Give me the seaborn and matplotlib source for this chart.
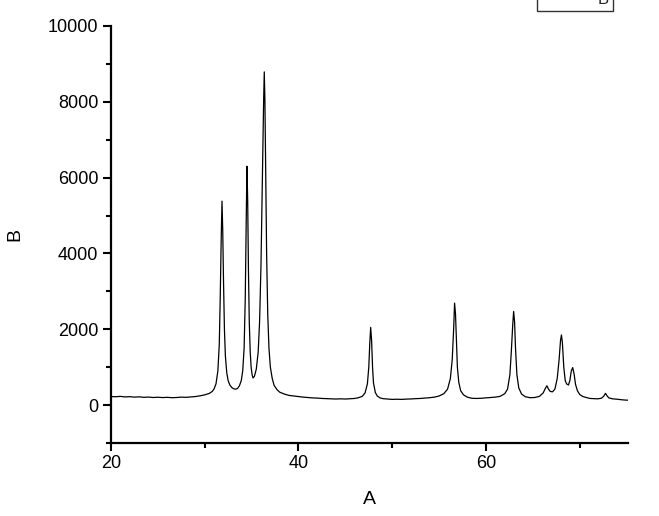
import matplotlib
matplotlib.use("Agg")
import matplotlib.pyplot as plt
import seaborn as sns
import pandas as pd
from matplotlib.ticker import MultipleLocator
from matplotlib.lines import Line2D

two_theta = [20.0, 20.5, 21.0, 21.5, 22.0, 22.5, 23.0, 23.5, 24.0, 24.5, 25.0, 25.5, 26.0, 26.5,
             27.0, 27.5, 28.0, 28.5, 29.0, 29.5, 30.0, 30.5, 30.8, 31.0, 31.2, 31.4, 31.55, 31.65,
             31.75, 31.84, 31.92, 32.0, 32.1, 32.2, 32.35, 32.5, 32.7, 32.9, 33.1, 33.3, 33.5, 33.7,
             33.9, 34.05, 34.2, 34.32, 34.42, 34.5, 34.58, 34.66, 34.75, 34.85, 34.95, 35.05, 35.15,
             35.3, 35.5, 35.7, 35.85, 36.0, 36.15, 36.28, 36.35, 36.42, 36.5, 36.6, 36.72, 36.85,
             37.0, 37.2, 37.4, 37.7, 38.0, 38.5, 39.0, 39.5, 40.0, 40.5, 41.0, 41.5, 42.0, 42.5,
             43.0, 43.5, 44.0, 44.5, 45.0, 45.5, 46.0, 46.4, 46.8, 47.1, 47.35, 47.5, 47.6, 47.7,
             47.8, 47.9, 48.0, 48.2, 48.4, 48.7, 49.0, 49.5, 50.0, 50.5, 51.0, 51.5, 52.0, 52.5,
             53.0, 53.5, 54.0, 54.5, 55.0, 55.5, 55.9, 56.2, 56.4, 56.55, 56.65, 56.75, 56.85,
             56.95, 57.1, 57.3, 57.6, 58.0, 58.5, 59.0, 59.5, 60.0, 60.5, 61.0, 61.5, 62.0, 62.3,
             62.55, 62.7, 62.85, 62.95, 63.05, 63.15, 63.3, 63.5, 63.8, 64.2, 64.7, 65.2, 65.7,
             66.1, 66.35, 66.5, 66.65, 66.85, 67.1, 67.35, 67.6, 67.8, 67.95, 68.05, 68.15, 68.3,
             68.45, 68.6, 68.8, 68.95, 69.1, 69.25, 69.4, 69.55, 69.75, 70.0, 70.3, 70.7, 71.1,
             71.5, 71.9, 72.3, 72.55, 72.75, 72.9, 73.1, 73.5, 74.0, 74.5, 75.0, 75.15]
intensity = [225, 220, 230, 215, 222, 210, 218, 205, 212, 200, 208, 198, 205, 195,
             200, 210, 205, 215, 225, 245, 270, 310, 360, 430, 560, 900, 1600, 2800,
             4300, 5380, 4600, 3300, 2000, 1300, 850, 640, 520, 460, 430, 420, 440, 510,
             650, 900, 1500, 2800, 4700, 6300, 5400, 3600, 2200, 1400, 1000, 800, 715,
             760, 950, 1400, 2200, 3700, 6000, 8000, 8790, 8000, 6200, 4000, 2400, 1500,
             1000, 700, 520, 410, 340, 290, 255, 240, 225, 210, 200, 190, 185, 175,
             170, 165, 160, 165, 160, 168, 175, 195, 230, 320, 560, 1000, 1600, 2050,
             1700, 1000, 580, 330, 240, 190, 170, 160, 150, 155, 150, 158, 162, 170,
             175, 185, 195, 210, 240, 300, 420, 700, 1200, 2000, 2690, 2400, 1700,
             1000, 600, 380, 270, 210, 180, 175, 180, 190, 200, 210, 230, 300, 420,
             800, 1400, 2100, 2470, 2200, 1500, 800, 450, 290, 220, 195, 200, 230,
             320, 450, 510, 430, 360, 350, 420, 700, 1200, 1700, 1850, 1650, 1000,
             650, 560, 530, 650, 900, 990, 820, 550, 380, 280, 230, 200, 175,
             170, 165, 180, 230, 310, 250, 190, 165, 155, 140, 130, 130]

x_major = [20, 40, 60]
y_major = [0, 2000, 4000, 6000, 8000, 10000]
x_label = "A"
y_label = "B"
series_name = "B"

df = pd.DataFrame({x_label: two_theta, y_label: intensity})

sns.set_theme(style="ticks")
plt.rcParams['font.family'] = ['Liberation Sans', 'DejaVu Sans']

fig = plt.figure(figsize=(6.59, 5.16), dpi=100)
ax = fig.add_axes([111 / 659, 1 - 443 / 516, (628 - 111) / 659, (443 - 26) / 516])

sns.lineplot(data=df, x=x_label, y=y_label, ax=ax, color="black", linewidth=0.9,
             estimator=None, sort=False)

ax.set_xlim(20, 75.15)
ax.set_ylim(-1000, 10000)
ax.set_xticks(x_major)
ax.set_yticks(y_major)
ax.xaxis.set_minor_locator(MultipleLocator(10))
ax.yaxis.set_minor_locator(MultipleLocator(1000))

for side in ["top", "right"]:
    ax.spines[side].set_visible(False)
for side in ["left", "bottom"]:
    ax.spines[side].set_linewidth(1.6)
    ax.spines[side].set_color("black")

ax.tick_params(which="major", direction="out", length=6, width=1.5, labelsize=13,
               colors="black", pad=3)
ax.tick_params(which="minor", direction="out", length=3.5, width=1.5, colors="black")

ax.set_xlabel(x_label, fontsize=14, labelpad=13, color="black")
ax.set_ylabel(y_label, fontsize=14, labelpad=18, color="black")

handle = Line2D([], [], color="black", linewidth=0.9)
leg = fig.legend([handle], [series_name], loc="lower right",
                 bbox_to_anchor=(612.5 / 659, 1 - 11 / 516), frameon=True,
                 fancybox=False, shadow=False, fontsize=12, borderpad=0.25,
                 handlelength=2.85, handletextpad=0.5, borderaxespad=0.0)
leg.get_frame().set_edgecolor("black")
leg.get_frame().set_linewidth(1.0)
leg.get_frame().set_facecolor("white")

fig.savefig("out.png", dpi=100)
